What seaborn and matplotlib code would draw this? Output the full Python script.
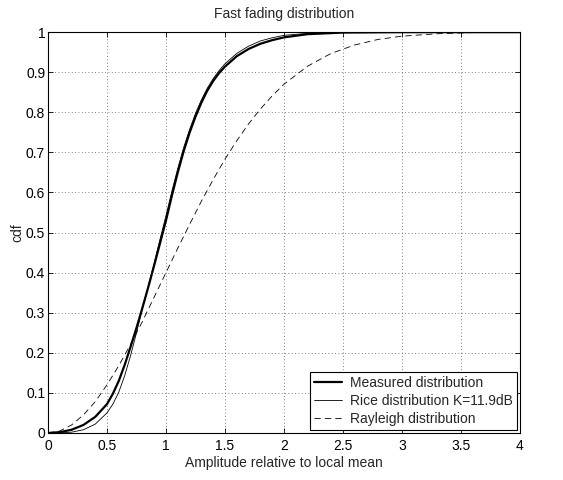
import numpy as np
import pandas as pd
import matplotlib
matplotlib.use("Agg")
import matplotlib.pyplot as plt
import seaborn as sns

# values
measured_x = [0.0, 0.1, 0.2, 0.3, 0.4, 0.5, 0.55, 0.6, 0.65, 0.7, 0.75, 0.8, 0.85, 0.9, 0.95,
              1.0, 1.05, 1.1, 1.15, 1.2, 1.25, 1.3, 1.35, 1.4, 1.45, 1.5, 1.6, 1.7, 1.8,
              1.9, 2.0, 2.2, 2.5, 3.0, 4.0]
measured_y = [0.0, 0.002, 0.008, 0.020, 0.040, 0.072, 0.098, 0.130, 0.170, 0.215, 0.262, 0.312,
              0.364, 0.418, 0.474, 0.530, 0.592, 0.650, 0.703, 0.749, 0.789, 0.824, 0.854,
              0.878, 0.898, 0.914, 0.940, 0.958, 0.971, 0.980, 0.987, 0.995, 0.999, 1.0, 1.0]

rice_x = [0.0, 0.1, 0.2, 0.3, 0.4, 0.5, 0.55, 0.6, 0.65, 0.7, 0.75, 0.8, 0.85, 0.9, 0.95,
          1.0, 1.05, 1.1, 1.15, 1.2, 1.25, 1.3, 1.35, 1.4, 1.45, 1.5, 1.6, 1.7, 1.8,
          1.9, 2.0, 2.2, 2.5, 3.0, 4.0]
rice_y = [0.0, 0.0002, 0.002, 0.008, 0.022, 0.050, 0.072, 0.102, 0.143, 0.193, 0.250, 0.310,
          0.366, 0.424, 0.484, 0.542, 0.603, 0.660, 0.712, 0.757, 0.797, 0.831, 0.860,
          0.884, 0.904, 0.921, 0.947, 0.965, 0.978, 0.986, 0.992, 0.997, 1.0, 1.0, 1.0]

rayleigh_x = [0.0, 0.1, 0.2, 0.3, 0.4, 0.5, 0.6, 0.7, 0.8, 0.9, 1.0, 1.1, 1.2, 1.3, 1.4,
              1.5, 1.6, 1.7, 1.8, 1.9, 2.0, 2.2, 2.4, 2.6, 2.8, 3.0, 3.3, 3.6, 4.0]
rayleigh_y = [0.0, 0.005, 0.020, 0.045, 0.078, 0.120, 0.168, 0.221, 0.278, 0.339, 0.400,
              0.461, 0.520, 0.578, 0.632, 0.683, 0.729, 0.771, 0.808, 0.841, 0.870, 0.915,
              0.947, 0.968, 0.982, 0.990, 0.996, 0.999, 1.0]

x_ticks = [0, 0.5, 1, 1.5, 2, 2.5, 3, 3.5, 4]
x_tick_labels = ["0", "0.5", "1", "1.5", "2", "2.5", "3", "3.5", "4"]
y_ticks = [0, 0.1, 0.2, 0.3, 0.4, 0.5, 0.6, 0.7, 0.8, 0.9, 1]
y_tick_labels = ["0", "0.1", "0.2", "0.3", "0.4", "0.5", "0.6", "0.7", "0.8", "0.9", "1"]

sns.set_theme(style="ticks")
plt.rcParams["font.family"] = ["Liberation Sans", "DejaVu Sans"]
fs = 10

fig = plt.figure(figsize=(5.63, 4.8), dpi=100)
ax = fig.add_axes([0.0853, 0.098, 0.838, 0.835])

sns.lineplot(x=measured_x, y=measured_y, ax=ax, color="black", linewidth=1.6,
             label="Measured distribution", sort=False)
sns.lineplot(x=rice_x, y=rice_y, ax=ax, color="black", linewidth=0.6,
             label="Rice distribution K=11.9dB", sort=False)
sns.lineplot(x=rayleigh_x, y=rayleigh_y, ax=ax, color="black", linewidth=0.6,
             label="Rayleigh distribution", sort=False)
ax.lines[2].set_dashes([7.5, 5])

ax.set_xlim(0, 4)
ax.set_ylim(0, 1)
ax.set_xticks(x_ticks)
ax.set_xticklabels(x_tick_labels)
ax.set_yticks(y_ticks)
ax.set_yticklabels(y_tick_labels)
ax.tick_params(direction="in", top=True, right=True, length=3.5, width=0.6,
               labelsize=fs, pad=2, colors="black")
ax.tick_params(axis="x", pad=4.5)
ax.grid(True, linestyle=(0, (1, 3)), color="#555555", linewidth=0.6)
for s in ax.spines.values():
    s.set_linewidth(0.8)
    s.set_color("black")

ax.set_xlabel("Amplitude relative to local mean", fontsize=fs, labelpad=2)
ax.set_ylabel("cdf", fontsize=fs, labelpad=1)
ax.set_title("Fast fading distribution", fontsize=fs, pad=10)

leg = ax.legend(loc="lower right", fontsize=fs, frameon=True, fancybox=False,
                borderaxespad=0.2, handlelength=2.0, borderpad=0.3, labelspacing=0.3,
                handletextpad=0.6)
leg.get_frame().set_edgecolor("black")
leg.get_frame().set_linewidth(0.8)
leg.get_frame().set_alpha(1)

fig.savefig("out.png", dpi=100)
